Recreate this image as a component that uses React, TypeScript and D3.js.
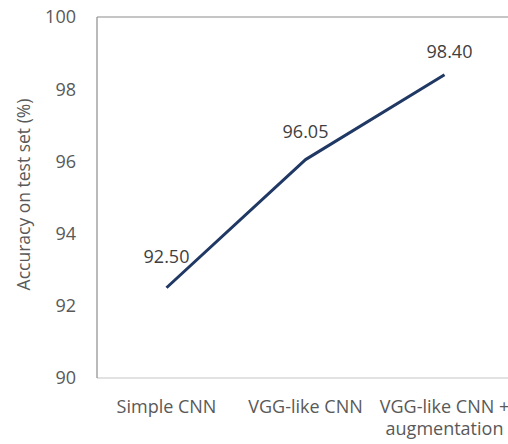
import React, { useEffect, useRef } from 'react';
import * as d3 from 'd3';

const categories = ['Simple CNN', 'VGG-like CNN', 'VGG-like CNN +\naugmentation'];
const accuracy = [92.5, 96.05, 98.4];
const yTicks = [90, 92, 94, 96, 98, 100];
const yTitle = 'Accuracy on test set (%)';

const width = 508;
const height = 444;
const margin = { top: 17, left: 97, bottom: 66 };
const bandWidth = 139;
const labelOffsets = [25, 22, 17];
const font = "'Open Sans', sans-serif";

const App: React.FC = () => {
  const svgRef = useRef<SVGSVGElement>(null);

  useEffect(() => {
    if (!svgRef.current) return;
    const svg = d3.select(svgRef.current);
    svg.selectAll('*').remove();

    const innerHeight = height - margin.top - margin.bottom;
    const x = d3.scaleBand<number>()
      .domain(d3.range(categories.length))
      .range([margin.left, margin.left + bandWidth * categories.length]);
    const y = d3.scaleLinear().domain([90, 100]).range([margin.top + innerHeight, margin.top]);
    const cx = (i: number) => (x(i) as number) + x.bandwidth() / 2;

    // frame
    svg.append('line')
      .attr('x1', margin.left).attr('x2', x.range()[1])
      .attr('y1', y(90)).attr('y2', y(90))
      .attr('stroke', '#d9d9d9').attr('stroke-width', 1.5);
    svg.append('line')
      .attr('x1', margin.left).attr('x2', x.range()[1])
      .attr('y1', y(100)).attr('y2', y(100))
      .attr('stroke', '#8c8c8c').attr('stroke-width', 1.2);
    svg.append('line')
      .attr('x1', margin.left).attr('x2', margin.left)
      .attr('y1', y(100)).attr('y2', y(90))
      .attr('stroke', '#8c8c8c').attr('stroke-width', 1.2);

    // y ticks
    svg.append('g').selectAll('text')
      .data(yTicks)
      .enter()
      .append('text')
      .attr('x', 76)
      .attr('y', d => y(d))
      .attr('dy', '0.35em')
      .attr('text-anchor', 'end')
      .attr('font-family', font)
      .attr('font-size', 18)
      .attr('fill', '#595959')
      .text(d => d);

    // x labels
    const xl = svg.append('g').selectAll('text')
      .data(categories)
      .enter()
      .append('text')
      .attr('text-anchor', 'middle')
      .attr('font-family', font)
      .attr('font-size', 18)
      .attr('fill', '#595959');
    xl.each(function (d, i) {
      const t = d3.select(this);
      d.split('\n').forEach((line, j) => {
        t.append('tspan')
          .attr('x', cx(i))
          .attr('y', y(90) + 35 + j * 22)
          .text(line);
      });
    });

    // y title
    svg.append('text')
      .attr('transform', `translate(30,${(y(90) + y(100)) / 2 - 3}) rotate(-90)`)
      .attr('text-anchor', 'middle')
      .attr('font-family', font)
      .attr('font-size', 17.5)
      .attr('fill', '#595959')
      .text(yTitle);

    // line
    const line = d3.line<number>()
      .x((_, i) => cx(i))
      .y(d => y(d));
    svg.append('path')
      .datum(accuracy)
      .attr('d', line)
      .attr('fill', 'none')
      .attr('stroke', '#203864')
      .attr('stroke-width', 3)
      .attr('stroke-linejoin', 'round');

    // data labels
    svg.append('g').selectAll('text')
      .data(accuracy)
      .enter()
      .append('text')
      .attr('x', (_, i) => cx(i) + (i === 2 ? 5 : 0))
      .attr('y', (d, i) => y(d) - labelOffsets[i])
      .attr('text-anchor', 'middle')
      .attr('font-family', font)
      .attr('font-size', 18)
      .attr('fill', '#404040')
      .text(d => d.toFixed(2));
  }, []);

  return (
    <svg
      ref={svgRef}
      width={width}
      height={height}
      style={{ position: 'absolute', left: 0, top: 0, background: '#fff' }}
    />
  );
};

export default App;
